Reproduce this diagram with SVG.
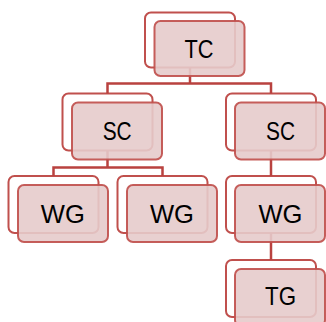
<svg xmlns="http://www.w3.org/2000/svg" width="326" height="322" viewBox="0 0 326 322">
<style>
.back{fill:#ffffff;stroke:#c0504d;stroke-width:2}
.front{fill:#e6cbcb;fill-opacity:0.9;stroke:#c0504d;stroke-width:2;stroke-opacity:0.92}
.lbl{font-family:"Liberation Sans",Arial,sans-serif;font-size:26.5px;fill:#000000;text-anchor:middle}
.conn{fill:none;stroke:#b9423f;stroke-width:2.5}
</style>
<rect width="326" height="322" fill="#ffffff"/>
<g id="backs">
<rect class="back" x="145" y="12.5" width="90" height="55" rx="6"/>
<rect class="back" x="62.5" y="93.5" width="90" height="57" rx="6"/>
<rect class="back" x="226" y="93.5" width="90" height="57" rx="6"/>
<rect class="back" x="8.5" y="176" width="90" height="57" rx="6"/>
<rect class="back" x="117.5" y="176" width="90" height="57" rx="6"/>
<rect class="back" x="226" y="176" width="90" height="57" rx="6"/>
<rect class="back" x="226" y="260" width="90" height="57" rx="6"/>
</g>
<g id="connectors">
<path class="conn" d="M190 67.5 V83.5 M107.5 93.5 V83.5 H271 V93.5"/>
<path class="conn" d="M107.5 150.5 V167.5 M53.5 176 V167.5 H162.5 V176"/>
<path class="conn" d="M271 150.5 V176"/>
<path class="conn" d="M271 233 V260"/>
</g>
<g id="TC">
<rect class="front" x="154.5" y="21" width="90" height="55" rx="6"/>
<text class="lbl" x="199" y="57.5" textLength="29" lengthAdjust="spacingAndGlyphs">TC</text>
</g>
<g id="SC1">
<rect class="front" x="72" y="102.5" width="90" height="57" rx="6"/>
<text class="lbl" x="117.2" y="140" textLength="29" lengthAdjust="spacingAndGlyphs">SC</text>
</g>
<g id="SC2">
<rect class="front" x="235" y="102.5" width="90" height="57" rx="6"/>
<text class="lbl" x="280.5" y="140" textLength="29" lengthAdjust="spacingAndGlyphs">SC</text>
</g>
<g id="WG1">
<rect class="front" x="18" y="185" width="90" height="57" rx="6"/>
<text class="lbl" x="62.8" y="223.3" textLength="44" lengthAdjust="spacingAndGlyphs">WG</text>
</g>
<g id="WG2">
<rect class="front" x="127" y="185" width="90" height="57" rx="6"/>
<text class="lbl" x="172" y="223.3" textLength="44" lengthAdjust="spacingAndGlyphs">WG</text>
</g>
<g id="WG3">
<rect class="front" x="235" y="185" width="90" height="57" rx="6"/>
<text class="lbl" x="280.5" y="223.3" textLength="44" lengthAdjust="spacingAndGlyphs">WG</text>
</g>
<g id="TG">
<rect class="front" x="235" y="269" width="90" height="57" rx="6"/>
<text class="lbl" x="280.5" y="305" textLength="31" lengthAdjust="spacingAndGlyphs">TG</text>
</g>
</svg>
